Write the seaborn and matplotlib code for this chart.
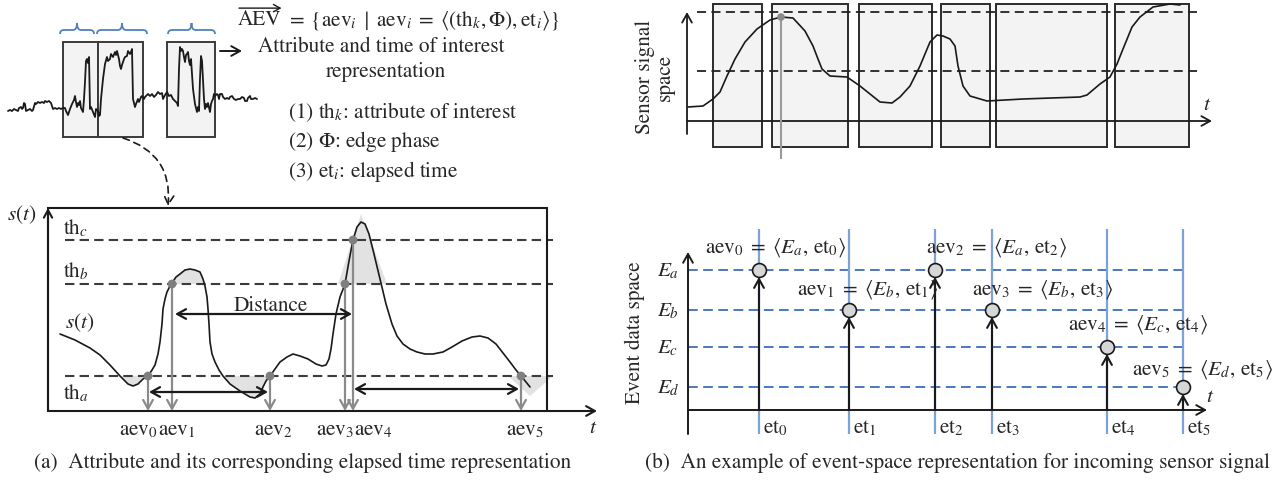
import numpy as np
import matplotlib
matplotlib.use("Agg")
import matplotlib.pyplot as plt
import seaborn as sns
from matplotlib.patches import Rectangle, Polygon, PathPatch, FancyArrowPatch
from matplotlib.path import Path

# ---------------------------------------------------------------- data
# (a) upper: raw sensor trace and the selected windows
raw_t = [8,10,12,14,16,18,19,21,22,23,24,25,26,28,30,32,33,35,36,38,40,42,44,45,47,49,51,53,55,57,59,61,63,
         65,66,68,70,72,74,75,76,77,78,79,80,81,83,84,85,86,87,88,89,90,91,93,95,96,98,99,100,
         101,103,105,107,108,110,111,113,115,116,117,119,120,121,122,124,125,127,128,130,131,132,133,135,136,138,139,141,142,
         144,145,147,148,150,152,154,156,158,160,162,163,165,167,
         169,171,173,175,177,178,179,180,181,182,183,184,185,186,187,188,189,190,191,192,193,195,197,198,199,200,201,202,203,204,205,206,207,208,210,211,212,213,
         214,215,217,218,219,220,222,223,225,227,229,230,232,234,236,238,240,242,244,245,247,248,250,251,253,255,257]
raw_amp = [8,9,8,10,9,8,11,12,10,11,16,15,8,9,10,8,9,16,15,17,16,17,16,18,17,18,16,10,11,10,11,10,11,
           11,8,4,10,15,19,23,17,12,16,14,18,11,7,20,37,58,60,56,62,10,12,7,2,10,8,3,4,
           20,40,55,62,58,60,65,62,67,64,68,60,53,50,54,60,62,63,68,65,67,70,20,12,15,20,17,22,23,
           20,22,24,25,23,25,22,24,27,25,26,20,24,27,
           23,24,20,18,16,13,50,72,68,70,68,62,57,64,65,67,58,54,60,45,30,15,7,12,8,40,63,58,40,20,10,15,12,16,7,15,18,20,
           25,23,25,24,20,25,25,22,20,21,20,22,23,20,19,20,20,22,21,18,18,21,23,20,20,21,20]
raw_windows = [(63, 98), (98, 143), (167, 215)]
brace_spans = [(60, 94), (97, 147), (168, 215)]

# (a) lower: s(t), thresholds and attribute events
st_t = [12,27,42,52,62,72,80,85,90,95,100,104,107,110,112,114,115,117,119,122,124,128,132,137,142,147,152,155,157,159,
        160,161,162,164,167,171,175,182,192,202,207,212,215,218,222,227,232,239,245,252,260,268,274,278,281,283,285,288,292,297,
        301,305,309,313,317,321,326,332,338,344,349,355,362,369,377,385,395,404,414,424,432,440,448,455,462,468,473,478,482]
st_s = [77,71,63,56,46,35,27,25,27,32,35,41,46,57,69,87,102,112,119,125,128,134,137,141,142,141,139,132,125,114,
        102,87,69,57,49,41,35,27,20,14,13,17,24,30,35,42,49,54,57,55,52,47,45,46,52,62,77,97,114,127,
        150,171,184,189,187,177,157,132,107,87,75,67,62,59,57,57,59,64,70,74,75,73,67,58,49,41,35,29,24]
th_names = ["a", "b", "c"]
th_values = [35, 127, 171]
aev_t = [100, 124, 222, 297, 305, 473]
aev_th = ["a", "b", "a", "b", "c", "a"]
interval_pairs = [(0, 2), (4, 5)]
interval_levels = [19, 22]
distance_pair = (1, 4)
distance_level = 97
peak_shade_t = [290, 313, 339]
peak_shade_s = [127, 197, 127]
end_shade_t = [460, 482, 505]
end_shade_s = [35, 15, 35]

# (b) upper: sensor signal space
sig_t = [1,16,26,33,40,48,58,70,83,94,106,118,126,131,135,143,160,173,183,193,205,213,223,233,243,250,256,263,268,271,
         276,283,300,336,393,400,413,423,430,436,445,453,466,483,493]
sig_s = [14,15,22,29,45,62,79,92,101,104,103,90,75,62,52,45,44,35,27,19,18,24,35,55,79,86,85,82,75,55,
         35,25,20,22,24,26,37,44,57,72,94,104,114,117,116]
sig_levels = [50, 109]
sig_windows = [(26, 75), (85, 161), (172, 245), (254, 303), (309, 420), (428, 502)]
sig_mark_t = [94]
sig_mark_s = [104]

# (b) lower: event data space
E_names = ["a", "b", "c", "d"]
E_values = [140, 100, 63, 23]
et_values = [71, 161, 247, 304, 419, 495]
ev_E = ["a", "b", "a", "b", "c", "d"]

# ---------------------------------------------------------------- style
W, H = 1280, 485
sns.set_theme(style="white")
plt.rcParams["font.family"] = ["STIXGeneral", "DejaVu Serif"]
plt.rcParams["mathtext.fontset"] = "stix"
FS = 15.3
BOXFACE = "#f2f3f2"
SHADE = "#e2e2e2"
GRAY = "#8a8a8a"
BLUE_D = "#4a78c0"
BLUE_V = "#7aa3d8"

fig = plt.figure(figsize=(12.8, 4.85), dpi=100)
fig.patch.set_facecolor("white")
renderer = fig.canvas.get_renderer()


def panel(px0, py0, px1, py1, ox, oy):
    ax = fig.add_axes([px0 / W, 1 - py1 / H, (px1 - px0) / W, (py1 - py0) / H])
    ax._lims = ((px0 - ox, px1 - ox), (oy - py1, oy - py0))
    ax.set_axis_off()
    return ax


def fix(ax):
    ax.set_xlim(*ax._lims[0])
    ax.set_ylim(*ax._lims[1])
    ax.set_axis_off()


def arrow(ax, p_from, p_to, color="k", lw=1.4, style="->", ms=14, ls="-", z=3):
    ax.annotate("", xy=p_to, xytext=p_from,
                arrowprops=dict(arrowstyle=style + ",head_length=0.45,head_width=0.25",
                                color=color, lw=lw, shrinkA=0, shrinkB=0,
                                mutation_scale=ms, linestyle=ls),
                annotation_clip=False, zorder=z)


def ftext(x, y, s, **kw):
    kw.setdefault("fontsize", FS)
    kw.setdefault("va", "center")
    return fig.text(x / W, 1 - y / H, s, **kw)


def brace(ax, x0, x1, y_end, y_body, y_tip, r=4.0, color="#4f81bd", lw=1.3):
    xm = (x0 + x1) / 2
    verts = [(x0, y_end), (x0, y_body), (x0 + r, y_body), (xm - r, y_body), (xm, y_body), (xm, y_tip),
             (xm, y_body), (xm + r, y_body), (x1 - r, y_body), (x1, y_body), (x1, y_end)]
    codes = [Path.MOVETO, Path.CURVE3, Path.CURVE3, Path.LINETO, Path.CURVE3, Path.CURVE3,
             Path.CURVE3, Path.CURVE3, Path.LINETO, Path.CURVE3, Path.CURVE3]
    ax.add_patch(PathPatch(Path(verts, codes), fc="none", ec=color, lw=lw))


# ================================================================ (a) upper
ax_at = panel(0, 15, 262, 150, ox=0, oy=120)
for t0, t1 in raw_windows:
    ax_at.add_patch(Rectangle((t0, -18), t1 - t0, 95, fc=BOXFACE, ec="#3a3a3a", lw=1.4, zorder=1))
sns.lineplot(x=raw_t, y=raw_amp, ax=ax_at, color="k", linewidth=1.3, sort=False, estimator=None, zorder=3)
for b0, b1 in brace_spans:
    brace(ax_at, b0, b1, 85, 89, 96)
arrow(ax_at, (220, 68), (242, 68), lw=1.4, ms=14)
fix(ax_at)

# dashed connector from the windows to the zoomed view
fig.add_artist(FancyArrowPatch(
    posA=(123, H - 139), posB=(168, H - 207), transform=None,
    connectionstyle="arc3,rad=-0.4", arrowstyle="->,head_length=0.45,head_width=0.25",
    mutation_scale=14, color="k", lw=1.2, linestyle=(0, (4, 3)), shrinkA=0, shrinkB=0))

# text block: AEV with a full-width arrow above it
t_aev = ftext(238, 20, r"AEV", ha="left")
bb = t_aev.get_window_extent(renderer)
fig.add_artist(FancyArrowPatch(
    posA=(bb.x0 + 1, bb.y1 + 1), posB=(bb.x1, bb.y1 + 1), transform=None,
    arrowstyle="->,head_length=0.4,head_width=0.22", mutation_scale=12, color="k", lw=1.0,
    shrinkA=0, shrinkB=0))
fig.text((bb.x1 + 4) / W, 1 - 20 / H,
         r"$=\;\{\mathrm{aev}_i\;\mid\;\mathrm{aev}_i\;=\;"
         r"\langle(\mathrm{th}_k, \Phi), \mathrm{et}_i\rangle\}$",
         fontsize=FS, ha="left", va="center")
ftext(381, 47, "Attribute and time of interest", ha="center")
ftext(386, 72, "representation", ha="center")
ftext(288, 112, r"(1) th$_k$: attribute of interest", ha="left")
ftext(288, 142, r"(2) $\Phi$: edge phase", ha="left")
ftext(288, 172, r"(3) et$_i$: elapsed time", ha="left")

# ================================================================ (a) lower
ax_ab = panel(0, 195, 625, 445, ox=48, oy=412)
th = dict(zip(th_names, th_values))
tt = np.array(st_t, float)
ss = np.array(st_s, float)
ax_ab.fill_between(tt, ss, th["a"], where=ss < th["a"], interpolate=True, color=SHADE, lw=0, zorder=1)
ax_ab.fill_between(tt, ss, th["b"], where=ss > th["b"], interpolate=True, color=SHADE, lw=0, zorder=1)
ax_ab.add_patch(Polygon(list(zip(peak_shade_t, peak_shade_s)), closed=True, fc=SHADE, ec="none", zorder=1))
ax_ab.add_patch(Polygon(list(zip(end_shade_t, end_shade_s)), closed=True, fc=SHADE, ec="none", zorder=1))

ax_ab.hlines(th_values, 17, 505, colors="#3c3c3c", lw=1.5, linestyles=[(0, (4.5, 2.5))], zorder=2)
ax_ab.add_patch(Rectangle((0, 0), 499, 203, fc="none", ec="k", lw=1.5, zorder=2))
arrow(ax_ab, (0, 0), (0, 203), lw=1.5, ms=12)
arrow(ax_ab, (499, 0), (549, 0), lw=1.5, ms=14)

sns.lineplot(x=st_t, y=st_s, ax=ax_ab, color="k", linewidth=1.2, sort=False, estimator=None, zorder=3)

aev_s = [th[k] for k in aev_th]
for t, s in zip(aev_t, aev_s):
    arrow(ax_ab, (t, s), (t, 0), color=GRAY, lw=1.6, ms=14, z=4)
sns.scatterplot(x=aev_t, y=aev_s, ax=ax_ab, s=40, color="#7f7f7f", edgecolor="none", zorder=5, legend=False)

for (i, j), lvl in zip(interval_pairs, interval_levels):
    arrow(ax_ab, (aev_t[i] + 1, lvl), (aev_t[j] - 2, lvl), style="<->", lw=1.6, ms=14, z=6)
i, j = distance_pair
arrow(ax_ab, (aev_t[i] + 3, distance_level), (aev_t[j] - 1, distance_level), style="<->", lw=1.6, ms=14, z=6)
ax_ab.text(223, 106, "Distance", fontsize=FS, ha="center", va="center")

ax_ab.text(-26, 197, r"$s(t)$", fontsize=FS, ha="center", va="center")
for name, val, dy in zip(th_names, th_values, [-16, 14, 13]):
    ax_ab.text(15, val + dy, r"$\mathrm{th}_{%s}$" % name, fontsize=FS, ha="left", va="center")
ax_ab.text(17, 89, r"$s(t)$", fontsize=FS, ha="left", va="center")
aev_label_dx = [-10, 5, 3, -10, 20, 4]
for k, (t, dx) in enumerate(zip(aev_t, aev_label_dx)):
    ax_ab.text(t + dx, -18, r"$\mathrm{aev}_{%d}$" % k, fontsize=FS, ha="center", va="center")
ax_ab.text(545, -16, r"$t$", fontsize=FS, ha="center", va="center")
fix(ax_ab)

ftext(303, 463, "(a)  Attribute and its corresponding elapsed time representation", ha="center")

# ================================================================ (b) upper
ax_bt = panel(625, 0, 1240, 168, ox=687, oy=122)
for t0, t1 in sig_windows:
    ax_bt.add_patch(Rectangle((t0, -26), t1 - t0, 143, fc=BOXFACE, ec="#2b2b2b", lw=1.4, zorder=1))
ax_bt.hlines(sig_levels, 10, 510, colors="#222222", lw=1.3, linestyles=[(0, (5, 3))], zorder=2)
arrow(ax_bt, (0, -13), (0, 109), lw=1.3, ms=14)
arrow(ax_bt, (0, 0), (525, 0), lw=1.3, ms=14)
ax_bt.vlines(sig_mark_t, -38, sig_mark_s, colors="#9a9a9a", lw=1.5, zorder=3)
sns.lineplot(x=sig_t, y=sig_s, ax=ax_bt, color="k", linewidth=1.2, sort=False, estimator=None, zorder=4)
sns.scatterplot(x=sig_mark_t, y=sig_mark_s, ax=ax_bt, s=30, color="#8a8a8a", edgecolor="none", zorder=5, legend=False)
ax_bt.text(520, 17, r"$t$", fontsize=FS, ha="center", va="center")
fix(ax_bt)
ftext(655, 77, "Sensor signal\nspace", rotation=90, ha="center", multialignment="center", linespacing=1.05)

# ================================================================ (b) lower
ax_bb = panel(625, 222, 1280, 445, ox=688, oy=411)
E = dict(zip(E_names, E_values))
ax_bb.hlines(E_values, 0, 500, colors=BLUE_D, lw=1.4, linestyles=[(0, (5, 2.8))], zorder=1)
ax_bb.vlines(et_values, -24, 181, colors=BLUE_V, lw=1.6, zorder=1)
arrow(ax_bb, (0, -24), (0, 158), lw=1.4, ms=14)
arrow(ax_bb, (0, 0), (519, 0), lw=1.4, ms=14)
ev_s = [E[k] for k in ev_E]
for t, s in zip(et_values, ev_s):
    arrow(ax_bb, (t, 0), (t, s - 7), lw=1.5, ms=14, z=3)
sns.scatterplot(x=et_values, y=ev_s, ax=ax_bb, s=100, color="#d6d6d6", edgecolor="#1a1a1a",
                linewidth=1.2, zorder=5, legend=False)
label_pos = [(17, 163), (109, 121), (238, 163), (284, 121), (380, 86), (444, 41)]
for k, ((lx, ly), e) in enumerate(zip(label_pos, ev_E)):
    ax_bb.text(lx, ly, r"$\mathrm{aev}_{%d}\;=\;\langle E_{%s},\, \mathrm{et}_{%d}\rangle$" % (k, e, k),
               fontsize=FS, ha="left", va="center", zorder=6)
for name, val in zip(E_names, E_values):
    ax_bb.text(-20, val, r"$E_{%s}$" % name, fontsize=FS, ha="center", va="center")
for k, t in enumerate(et_values):
    ax_bb.text(t + 4, -17, r"$\mathrm{et}_{%d}$" % k, fontsize=FS, ha="left", va="center")
ax_bb.text(522, 14, r"$t$", fontsize=FS, ha="center", va="center")
fix(ax_bb)
ftext(635, 333, "Event data space", rotation=90, ha="center")

ftext(957, 463, "(b)  An example of event-space representation for incoming sensor signal", ha="center")

fig.savefig("out.png", dpi=100, facecolor="white")
